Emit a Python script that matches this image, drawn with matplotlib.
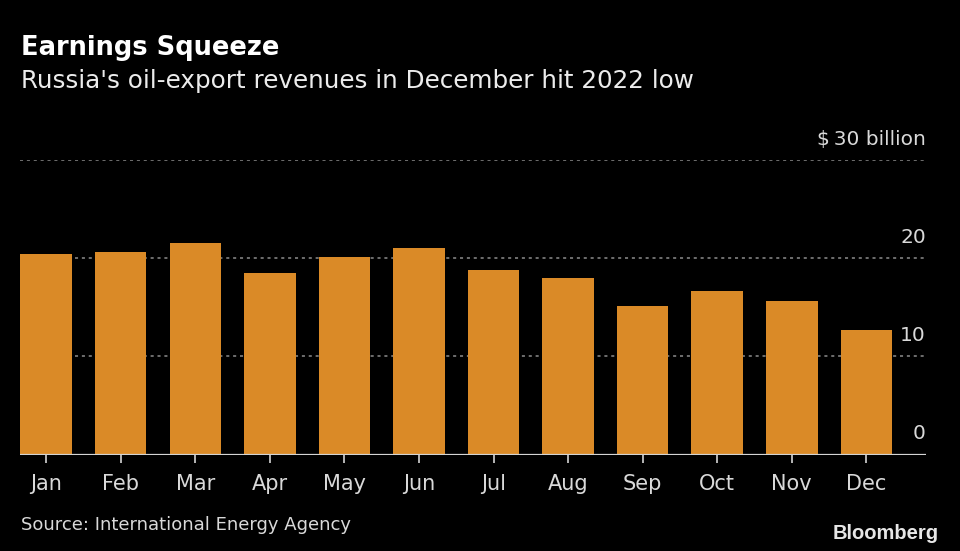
import matplotlib
matplotlib.use("Agg")
import matplotlib.pyplot as plt

months = ["Jan", "Feb", "Mar", "Apr", "May", "Jun", "Jul", "Aug", "Sep", "Oct", "Nov", "Dec"]
revenues = [20.4, 20.6, 21.6, 18.5, 20.1, 21.1, 18.8, 18.0, 15.1, 16.7, 15.7, 12.7]
y_ticks = [0, 10, 20, 30]
y_labels = ["0", "10", "20", "$\u200930 billion"]

plt.rcParams['font.family'] = ['DejaVu Sans']

fig = plt.figure(figsize=(9.6, 5.51), dpi=100, facecolor='black')
ax = fig.add_axes([20/960, 96.5/551, 906/960, 294.2/551])
ax.set_facecolor('black')

x = list(range(len(months)))
ax.bar(x, revenues, width=0.69, color='#DA8A27', zorder=2)

ax.set_xlim(-0.35, 11.8)
ax.set_ylim(0, 30)

for v in y_ticks[1:]:
    ax.axhline(v, color='#8c8c8c', lw=1.1, ls=(0, (2, 2.5)), zorder=1)
ax.axhline(0, color='#d4d4d4', lw=1.6, zorder=3)

for v, lab in zip(y_ticks, y_labels):
    ax.text(1.0, v + 2.1, lab, transform=ax.get_yaxis_transform(), ha='right', va='center',
            color='#d9d9d9', fontsize=14.5)

ax.set_yticks([])
ax.set_xticks(x)
ax.set_xticklabels(months, color='#d9d9d9', fontsize=15)
ax.tick_params(axis='x', length=6, width=1.2, color='#d4d4d4', pad=8)
for s in ax.spines.values():
    s.set_visible(False)

fig.text(21/960, 1 - 55/551, "Earnings Squeeze", color='white', fontsize=18.5, fontweight='bold',
         ha='left', va='baseline')
fig.text(21/960, 1 - 87.7/551, "Russia's oil-export revenues in December hit 2022 low", color='#ececec',
         fontsize=17.7, ha='left', va='baseline')
fig.text(21/960, 1 - 530/551, "Source: International Energy Agency", color='#d9d9d9', fontsize=13,
         ha='left', va='baseline')
fig.text(939/960, 1 - 539/551, "Bloomberg", color='#e6e6e6', fontsize=14.5, fontweight='bold',
         family=['Liberation Sans', 'DejaVu Sans'], ha='right', va='baseline')

fig.savefig("out.png", dpi=100, facecolor='black')
